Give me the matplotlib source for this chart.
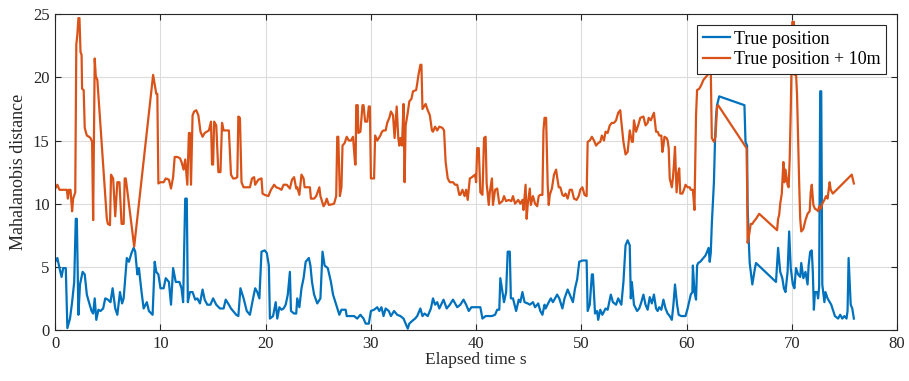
import numpy as np
import matplotlib
matplotlib.use("Agg")
from matplotlib import pyplot as plt

# blue: true position
true_t = [0, 0.2, 0.4, 0.6, 0.75, 1.0, 1.15, 1.4, 1.6, 1.8, 1.95, 2.05, 2.2, 2.35, 2.6, 2.8,
          3.0, 3.2, 3.45, 3.6, 3.75, 3.9, 4.1, 4.3, 4.55, 4.75, 5.0, 5.25, 5.45, 5.7, 5.9,
          6.15, 6.35, 6.5, 6.8, 7.0, 7.25, 7.45, 7.6, 7.8, 7.95, 8.2, 8.4, 8.7, 8.9, 9.25,
          9.45, 9.6, 9.8, 10.0, 10.3, 10.5, 10.8, 11.0, 11.2, 11.45, 11.8, 12.0, 12.15,
          12.35, 12.5, 12.6, 12.8, 13.05, 13.3, 13.5, 13.75, 14.0, 14.2, 14.45, 14.75, 15.0,
          15.3, 15.65, 16.0, 16.2, 16.5, 16.7, 16.9, 17.2, 17.4, 17.6, 17.9, 18.2, 18.5,
          18.8, 19.0, 19.2, 19.4, 19.6, 19.9, 20.1, 20.3, 20.4, 20.7, 20.95, 21.1, 21.3,
          21.5, 21.7, 21.9, 22.1, 22.3, 22.4, 22.7, 22.9, 23.0, 23.2, 23.4, 23.6, 23.8,
          24.1, 24.25, 24.4, 24.6, 24.9, 25.2, 25.4, 25.6, 25.9, 26.2, 26.4, 26.7, 27.0,
          27.2, 27.6, 27.7, 28.1, 28.4, 28.7, 29.0, 29.3, 29.5, 29.8, 30.0, 30.3, 30.6,
          30.8, 31.0, 31.2, 31.4, 31.7, 31.9, 32.2, 32.5, 32.8, 33.1, 33.3, 33.5, 33.65,
          33.9, 34.2, 34.4, 34.7, 34.9, 35.1, 35.4, 35.7, 35.9, 36.1, 36.3, 36.5, 36.9,
          37.2, 37.5, 37.8, 38.2, 38.5, 38.8, 39.05, 39.3, 39.55, 40.1, 40.4, 40.6, 40.9,
          41.2, 41.5, 41.8, 42.0, 42.2, 42.3, 42.5, 42.65, 42.85, 43.0, 43.2, 43.3, 43.5,
          43.8, 44.05, 44.2, 44.4, 44.6, 44.9, 45.1, 45.4, 45.6, 45.9, 46.1, 46.3, 46.5,
          46.6, 46.9, 47.1, 47.3, 47.7, 47.9, 48.2, 48.4, 48.7, 48.9, 49.2, 49.4, 49.6,
          49.8, 50.1, 50.3, 50.5, 50.6, 50.8, 51.0, 51.1, 51.3, 51.5, 51.6, 51.8, 52.0,
          52.3, 52.5, 52.8, 53.0, 53.3, 53.5, 53.8, 54.0, 54.2, 54.4, 54.6, 54.7, 54.8,
          55.0, 55.3, 55.5, 55.7, 55.9, 56.1, 56.3, 56.5, 56.7, 56.9, 57.1, 57.25, 57.4,
          57.6, 57.8, 58.0, 58.2, 58.4, 58.6, 58.75, 58.9, 59.1, 59.25, 59.5, 59.75, 59.9,
          60.1, 60.4, 60.55, 60.6, 60.75, 60.9, 61.0, 61.1, 61.3, 61.6, 61.8, 62.1, 62.2,
          62.3, 62.4, 62.6, 62.7, 62.8, 62.9, 63.1, 65.5, 65.6, 65.75, 65.8, 65.9, 66.0,
          66.1, 66.25, 66.4, 66.5, 66.6, 68.5, 68.7, 68.9, 69.1, 69.25, 69.4, 69.6, 69.75,
          69.9, 70.1, 70.25, 70.4, 70.6, 70.8, 70.9, 71.1, 71.3, 71.5, 71.6, 71.75, 71.9,
          72.0, 72.1, 72.2, 72.4, 72.5, 72.6, 72.7, 72.8, 72.9, 73.1, 73.2, 73.4, 73.75,
          74.1, 74.4, 74.6, 74.8, 75.0, 75.2, 75.3, 75.4, 75.6, 75.75, 75.9]
true_d = [5.4, 5.7, 4.9, 4.2, 4.9, 4.9, 0.15, 0.9, 2.2, 3.8, 8.8, 8.8, 1.2, 3.6, 4.6, 4.4,
          2.8, 2.2, 1.5, 1.3, 2.5, 0.8, 1.6, 1.5, 1.7, 2.5, 2.4, 2.2, 3.3, 1.7, 1.2,
          3.0, 2.1, 2.5, 5.7, 5.4, 6.1, 6.5, 6.2, 4.4, 4.9, 3.0, 1.7, 2.2, 1.5, 1.2,
          5.4, 4.6, 4.4, 3.3, 3.3, 4.1, 3.8, 2.0, 4.9, 3.8, 3.8, 3.3, 2.2,
          10.4, 10.4, 2.2, 3.0, 3.0, 2.4, 2.5, 2.1, 3.2, 2.4, 2.0, 2.0, 2.5,
          2.0, 1.7, 1.7, 2.4, 2.0, 1.7, 1.5, 1.2, 1.1, 3.3, 2.5, 1.5, 1.2,
          2.5, 3.3, 3.0, 2.5, 6.2, 6.3, 6.1, 5.1, 0.9, 1.1, 2.2, 0.9, 1.8,
          1.6, 1.7, 2.0, 2.8, 4.6, 1.5, 1.3, 1.3, 2.5, 1.8, 3.3, 4.1, 5.4,
          5.7, 5.1, 3.8, 2.8, 2.1, 2.5, 6.2, 5.1, 4.9, 3.8, 2.8, 2.0, 1.2,
          1.6, 1.6, 1.1, 1.1, 1.1, 0.9, 1.2, 0.9, 0.5, 0.5, 1.5, 1.6, 1.8,
          1.5, 1.8, 1.1, 1.7, 1.5, 1.1, 1.5, 1.2, 1.1, 0.9, 0.5, 0.1, 0.5,
          0.7, 0.9, 1.1, 1.7, 1.1, 1.3, 1.1, 1.7, 2.5, 2.0, 2.2, 1.7, 2.4,
          1.7, 2.0, 2.4, 1.8, 2.0, 2.4, 2.0, 1.5, 1.8, 1.8, 1.8, 0.9, 1.1,
          1.1, 1.1, 1.2, 1.6, 1.6, 4.1, 3.0, 2.2, 3.0, 6.2, 6.2, 2.5, 2.5,
          1.5, 2.4, 2.2, 3.0, 2.2, 2.1, 2.0, 2.2, 1.8, 2.1, 1.5, 1.2, 2.0,
          1.7, 2.2, 2.5, 2.2, 2.8, 2.5, 1.7, 2.5, 3.2, 2.8, 2.2, 3.3, 4.0,
          5.4, 5.5, 5.5, 5.5, 1.5, 2.0, 4.4, 4.4, 1.3, 1.5, 0.8, 1.6, 1.2,
          1.7, 1.6, 2.8, 2.2, 2.0, 2.5, 2.0, 3.8, 6.7, 7.1, 6.7, 2.5, 3.8,
          2.0, 1.5, 1.7, 2.2, 2.8, 2.0, 1.6, 2.6, 2.1, 2.8, 1.7, 1.5, 1.8,
          1.6, 2.4, 1.7, 1.3, 1.1, 0.8, 2.0, 3.6, 2.0, 1.2, 1.1, 1.1, 1.1,
          1.7, 2.8, 3.0, 5.1, 3.0, 2.4, 5.1, 5.3, 5.4, 5.7, 5.9, 6.5, 5.4,
          6.1, 8.4, 11.7, 14.9, 16.9, 17.8, 18.5, 17.8, 14.9, 14.6, 9.9, 7.3, 5.3,
          4.6, 3.6, 4.4, 4.9, 5.3, 3.8, 6.5, 4.6, 4.1, 3.3, 3.0, 4.6, 7.8,
          4.9, 3.6, 3.3, 4.9, 4.4, 4.2, 5.3, 4.1, 4.6, 3.6, 5.1, 6.2, 6.3,
          4.6, 1.6, 3.0, 3.0, 2.5, 3.4, 18.9, 18.9, 3.6, 2.2, 3.0, 2.5, 2.0,
          1.1, 0.9, 1.2, 0.9, 1.1, 0.9, 1.5, 5.7, 2.0, 1.7, 0.9]

# orange: true position + 10m
off_t = [0, 0.2, 0.4, 0.75, 1.1, 1.2, 1.3, 1.45, 1.6, 1.7, 1.9, 2.0, 2.1, 2.2, 2.3, 2.4,
         2.5, 2.55, 2.7, 2.8, 3.0, 3.2, 3.35, 3.5, 3.6, 3.75, 3.85, 4.0, 4.9, 5.0, 5.2,
         5.3, 5.5, 5.7, 5.9, 6.1, 6.3, 6.5, 6.6, 6.7, 7.5, 9.3, 9.6, 9.7, 9.8, 10.0, 10.3,
         10.5, 10.8, 11.0, 11.2, 11.35, 11.6, 11.85, 12.0, 12.2, 12.35, 12.55, 12.7, 12.8,
         12.9, 13.05, 13.2, 13.4, 13.6, 13.8, 14.0, 14.2, 14.4, 14.6, 14.8, 14.9, 15.0,
         15.1, 15.3, 15.5, 15.7, 15.85, 16.0, 16.2, 16.5, 16.7, 16.9, 17.1, 17.3, 17.4,
         17.55, 17.7, 17.9, 18.5, 18.7, 18.9, 19.0, 19.3, 19.6, 19.7, 19.9, 20.25, 20.5,
         20.8, 21.0, 21.3, 21.5, 21.7, 22.0, 22.3, 22.5, 22.7, 22.9, 23.0, 23.2, 23.4,
         23.6, 23.7, 24.0, 24.2, 24.3, 24.6, 24.8, 25.1, 25.2, 25.5, 25.65, 25.8, 26.0,
         26.3, 26.5, 26.7, 26.8, 26.9, 27.05, 27.2, 27.3, 27.5, 27.7, 27.9, 28.1, 28.3,
         28.5, 28.55, 28.6, 28.75, 28.8, 29.0, 29.2, 29.3, 29.45, 29.65, 29.8, 29.9,
         30.0, 30.3, 30.4, 30.6, 30.9, 31.05, 31.2, 31.4, 31.55, 31.75, 31.9, 32.1,
         32.25, 32.45, 32.6, 32.7, 32.8, 32.95, 33.1, 33.2, 33.3, 33.5, 33.65, 33.85,
         34.0, 34.3, 34.4, 34.5, 34.7, 34.8, 34.9, 35.05, 35.2, 35.4, 35.6, 35.8, 35.9,
         36.1, 36.3, 36.5, 36.8, 36.95, 37.1, 37.3, 37.5, 37.8, 38.0, 38.2, 38.4, 38.5,
         38.7, 38.9, 39.05, 39.2, 39.4, 39.6, 39.9, 40.0, 40.1, 40.25, 40.4, 40.6, 40.75,
         40.9, 41.0, 41.2, 41.3, 41.5, 41.6, 41.8, 42.0, 42.2, 42.5, 42.65, 42.85, 43.1,
         43.35, 43.5, 43.7, 44.0, 44.2, 44.4, 44.5, 44.7, 44.8, 44.9, 45.1, 45.2, 45.4,
         45.6, 45.8, 45.95, 46.1, 46.3, 46.4, 46.5, 46.65, 46.8, 46.9, 47.0, 47.2, 47.4,
         47.6, 47.7, 47.85, 48.0, 48.2, 48.35, 48.5, 48.7, 48.9, 49.1, 49.3, 49.55, 49.75,
         49.9, 50.1, 50.3, 50.5, 50.6, 50.8, 51.0, 51.2, 51.4, 51.6, 51.8, 51.95, 52.15,
         52.3, 52.5, 52.7, 52.9, 53.1, 53.3, 53.5, 53.7, 53.8, 54.0, 54.2, 54.4, 54.6,
         54.8, 54.9, 55.0, 55.2, 55.4, 55.6, 55.9, 56.1, 56.3, 56.4, 56.6, 56.8, 56.9,
         57.1, 57.25, 57.4, 57.6, 57.7, 57.8, 57.9, 58.1, 58.2, 58.3, 58.4, 58.6, 58.7,
         58.8, 58.9, 59.05, 59.2, 59.3, 59.4, 59.6, 59.75, 59.9, 60.1, 60.3, 60.4, 60.6,
         60.75, 60.9, 61.0, 61.2, 61.4, 61.6, 61.9, 62.1, 62.2, 62.3, 62.4, 62.6, 62.75,
         62.9, 63.0, 65.7, 65.75, 65.8, 65.9, 66.1, 66.25, 66.4, 66.6, 66.9, 68.6, 68.7,
         68.8, 68.9, 69.05, 69.2, 69.3, 69.4, 69.6, 69.7, 69.8, 69.9, 70.05, 70.2, 70.25,
         70.4, 70.5, 70.7, 70.8, 70.9, 71.1, 71.3, 71.5, 71.7, 71.8, 71.9, 72.05, 72.2,
         72.4, 72.5, 72.6, 72.75, 72.9, 73.1, 73.25, 73.4, 73.6, 73.7, 73.9, 75.7, 75.9]
off_d = [11.2, 11.5, 11.1, 11.1, 11.1, 10.4, 11.1, 11.1, 9.4, 10.4, 10.9, 22.6, 23.4, 24.7, 24.7, 22.0,
         21.8, 19.1, 19.0, 16.0, 15.4, 15.3, 15.2, 14.9, 8.7, 21.5, 20.1, 19.8, 8.8, 8.4, 8.3,
         12.3, 12.0, 9.0, 11.7, 11.7, 8.4, 8.4, 12.0, 12.0, 6.6, 20.2, 18.7, 18.7, 11.6, 11.7, 11.7,
         12.0, 11.9, 11.2, 12.1, 13.7, 13.7, 13.6, 13.3, 12.7, 13.5, 11.5, 15.6, 15.6,
         11.5, 17.0, 17.3, 17.4, 17.0, 15.7, 15.3, 15.6, 15.7, 15.8, 16.5, 13.1, 13.1,
         16.5, 16.2, 12.5, 12.5, 16.4, 15.8, 15.8, 15.8, 12.3, 12.0, 12.0, 12.1, 16.9,
         16.8, 11.7, 11.3, 11.3, 12.0, 12.1, 11.5, 11.9, 12.0, 10.8, 10.7, 10.6, 11.1,
         11.5, 11.3, 11.2, 11.1, 11.5, 11.5, 11.2, 11.9, 12.1, 11.2, 11.3, 10.7, 12.3,
         12.0, 11.3, 11.3, 11.3, 10.4, 10.4, 10.6, 11.3, 10.6, 9.8, 10.0, 10.4, 9.9,
         9.95, 10.0, 10.6, 15.3, 15.3, 10.6, 11.3, 14.6, 14.8, 15.3, 15.0, 15.0, 15.3,
         13.1, 13.1, 17.8, 17.8, 15.6, 15.7, 17.8, 17.8, 16.5, 16.5, 17.7, 17.7,
         12.0, 12.0, 15.4, 15.0, 15.4, 15.7, 15.8, 15.8, 16.4, 16.8, 17.3, 17.0,
         15.2, 17.7, 15.2, 14.6, 15.2, 14.6, 17.9, 11.7, 16.2, 17.2, 18.1, 18.3,
         18.9, 19.0, 19.5, 20.1, 21.0, 21.0, 17.5, 17.7, 17.9, 17.4, 17.0, 15.8, 15.7,
         16.1, 15.8, 16.1, 16.0, 15.8, 13.3, 12.0, 11.7, 11.7, 11.5, 11.5, 10.7, 10.7,
         11.1, 10.6, 11.1, 10.3, 12.0, 12.1, 12.3, 11.7, 14.4, 14.4, 10.9, 10.7, 15.2,
         15.3, 11.6, 9.9, 10.9, 12.0, 9.9, 11.1, 11.2, 10.0, 10.2, 10.6, 10.2, 10.3,
         10.2, 10.6, 10.0, 10.3, 10.0, 10.3, 9.5, 11.5, 8.8, 9.9, 11.2, 9.9, 10.6,
         10.0, 9.8, 10.6, 10.7, 10.7, 15.8, 16.8, 16.8, 11.5, 9.9, 10.7, 11.2, 12.3,
         12.7, 12.1, 11.3, 11.3, 10.7, 10.6, 10.8, 10.4, 11.1, 11.1, 10.4, 10.3, 10.6,
         11.1, 11.3, 10.7, 10.6, 14.9, 15.0, 15.3, 15.0, 14.6, 14.8, 14.9, 15.4, 15.0,
         15.7, 15.6, 16.2, 16.4, 16.4, 16.6, 17.2, 17.4, 16.5, 14.9, 13.9, 14.1, 15.8,
         14.9, 14.9, 16.6, 15.7, 16.2, 16.8, 16.9, 16.2, 16.4, 16.8, 16.6, 17.0, 17.2,
         15.7, 15.7, 15.4, 15.4, 14.1, 14.6, 15.3, 15.2, 15.0, 14.4, 12.0, 11.3, 12.0,
         13.1, 14.5, 10.9, 12.4, 12.8, 10.8, 10.8, 11.1, 11.5, 11.3, 11.3, 11.1, 11.1,
         9.5, 17.0, 19.0, 19.1, 19.4, 19.8, 20.1, 20.3, 20.6, 20.6, 15.2, 14.9, 15.3,
         17.7, 17.8, 14.4, 11.7, 6.9, 7.3, 8.4, 8.4, 8.6, 8.8, 9.2, 7.9, 8.8,
         9.1, 10.0, 10.8, 13.3, 11.7, 12.7, 11.5, 11.3, 13.5, 17.3, 24.4, 24.4, 20.2,
         20.4, 18.6, 11.7, 8.8, 7.8, 8.0, 8.7, 9.2, 9.4, 10.9, 11.5, 9.9, 9.6,
         9.5, 9.4, 9.8, 9.6, 10.0, 10.3, 10.6, 10.4, 11.7, 11.1, 10.8, 12.3, 11.6]

series_labels = ["True position", "True position + 10m"]

plt.rcParams['font.family'] = ['Liberation Serif', 'DejaVu Serif']
plt.rcParams['font.size'] = 12

fig = plt.figure(figsize=(9.09, 3.81), dpi=100)
ax = fig.add_axes([0.0608, 0.134, 0.926, 0.8285])

ax.plot(true_t, true_d, color="#0072BD", lw=1.6, label=series_labels[0])
ax.plot(off_t, off_d, color="#D95319", lw=1.6, label=series_labels[1])

ax.set_xlim(0, 80)
ax.set_ylim(0, 25)
ax.set_xticks(np.arange(0, 81, 10))
ax.set_yticks(np.arange(0, 26, 5))
ax.grid(True, color="#dcdcdc", lw=0.8)
ax.set_axisbelow(True)
ax.tick_params(direction='in', top=True, right=True, length=4, color="#262626",
               labelcolor="#262626", labelsize=12, pad=4)
for s in ax.spines.values():
    s.set_color("#262626")
    s.set_linewidth(0.8)

ax.set_xlabel("Elapsed time s", fontsize=12.5, color="#262626", labelpad=0)
ax.set_ylabel("Mahalanobis distance", fontsize=13, color="#262626", labelpad=4)

leg = ax.legend(loc="upper right", fontsize=13, frameon=True, fancybox=False,
                edgecolor="#262626", framealpha=1, borderaxespad=0.6,
                handlelength=1.5, handletextpad=0.25, labelspacing=0.2, borderpad=0.3)
leg.get_frame().set_linewidth(0.8)

fig.savefig("out.png", dpi=100)
